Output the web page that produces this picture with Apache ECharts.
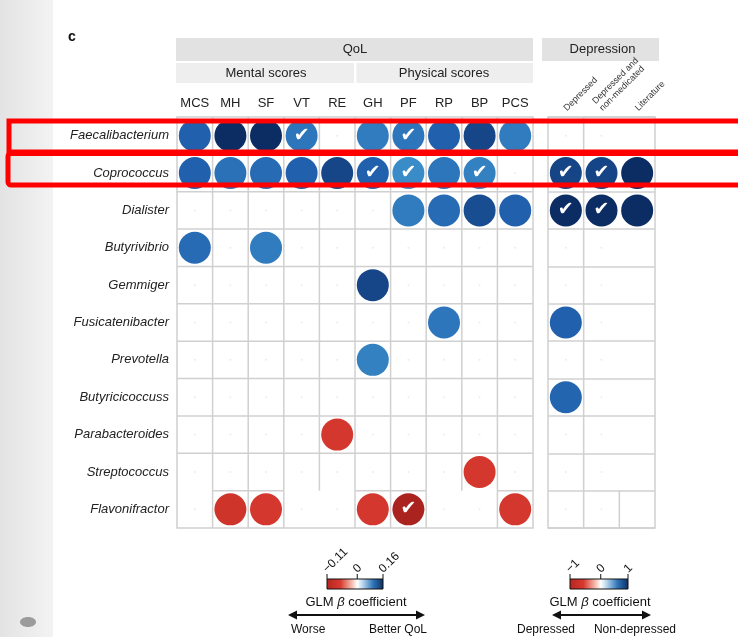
<!DOCTYPE html>
<html>
<head>
<meta charset="utf-8">
<script src="https://cdn.jsdelivr.net/npm/echarts@6/dist/echarts.min.js"></script>
<style>
html, body { margin: 0; padding: 0; background: #fff; }
#main { width: 738px; height: 637px; }
</style>
</head>
<body>
<div id="main"></div>
<script>
// genera (rows), top to bottom
var rows = ['Faecalibacterium', 'Coprococcus', 'Dialister', 'Butyrivibrio', 'Gemmiger',
	'Fusicatenibacter', 'Prevotella', 'Butyricicoccuss', 'Parabacteroides', 'Streptococcus', 'Flavonifractor'];

// QoL scores (columns)
var qolCols = ['MCS', 'MH', 'SF', 'VT', 'RE', 'GH', 'PF', 'RP', 'BP', 'PCS'];
var mentalCols = ['MCS', 'MH', 'SF', 'VT', 'RE'];
var physicalCols = ['GH', 'PF', 'RP', 'BP', 'PCS'];

// depression comparisons (columns)
var depCols = ['Depressed', 'Depressed and non-medicated', 'Literature'];

// GLM beta for QoL, one line per genus (null = not significant)
var qolBeta = [
	[0.12, 0.16, 0.16, 0.10, null, 0.095, 0.10, 0.12, 0.14, 0.095],
	[0.12, 0.105, 0.11, 0.12, 0.14, 0.12, 0.08, 0.10, 0.09, null],
	[null, null, null, null, null, null, 0.095, 0.11, 0.135, 0.12],
	[0.11, null, 0.095, null, null, null, null, null, null, null],
	[null, null, null, null, null, 0.14, null, null, null, null],
	[null, null, null, null, null, null, null, 0.10, null, null],
	[null, null, null, null, null, 0.09, null, null, null, null],
	[null, null, null, null, null, null, null, null, null, null],
	[null, null, null, null, -0.085, null, null, null, null, null],
	[null, null, null, null, null, null, null, null, -0.085, null],
	[null, -0.09, -0.085, null, null, -0.085, -0.13, null, null, -0.085]
];

// GLM beta for depression
var depBeta = [
	[null, null, null],
	[0.88, 0.88, 1.0],
	[1.0, 1.0, 1.0],
	[null, null, null],
	[null, null, null],
	[0.75, null, null],
	[null, null, null],
	[0.72, null, null],
	[null, null, null],
	[null, null, null],
	[null, null, null]
];

// cells with a check mark
var qolChecked = [['Faecalibacterium', 'VT'], ['Faecalibacterium', 'PF'], ['Coprococcus', 'GH'],
	['Coprococcus', 'PF'], ['Coprococcus', 'BP'], ['Flavonifractor', 'PF']];
var depChecked = [['Coprococcus', 'Depressed'], ['Coprococcus', 'Depressed and non-medicated'],
	['Dialister', 'Depressed'], ['Dialister', 'Depressed and non-medicated']];

// colour bar ticks
var qolTicks = [-0.11, 0, 0.16];
var depTicks = [-1, 0, 1];

var betaColors = ['#8e1b1b', '#b52520', '#d8392f', '#ee8a78', '#ffffff', '#8dbde0', '#3a8cc8', '#2160ad', '#0b2d63'];
var gridColor = '#d0d0d0';
var font = 'Liberation Sans';

function isChecked(list, r, c) {
	for (var i = 0; i < list.length; i++) {
		if (list[i][0] === r && list[i][1] === c) return 1;
	}
	return 0;
}

function buildPoints(beta, cols, checked) {
	var pts = [];
	rows.forEach(function(r, i) {
		cols.forEach(function(c, j) {
			if (beta[i][j] !== null) pts.push([c, r, beta[i][j], isChecked(checked, r, c)]);
		});
	});
	return pts;
}

function buildEmpty(beta, cols, maxCol) {
	var pts = [];
	rows.forEach(function(r, i) {
		cols.forEach(function(c, j) {
			if (j < maxCol && beta[i][j] === null) pts.push([c, r]);
		});
	});
	return pts;
}

var circleLabel = {
	show: true,
	position: 'inside',
	formatter: function(p) { return p.data[3] ? '\u2714' : ''; },
	color: '#fff',
	fontSize: 19,
	fontFamily: 'DejaVu Sans'
};

var option = {
	animation: false,
	backgroundColor: '#fff',
	grid: [
		{ left: 177, top: 117, width: 356, height: 411, show: true, borderColor: gridColor, borderWidth: 1.5 },
		{ left: 548, top: 117, width: 107, height: 411, show: true, borderColor: gridColor, borderWidth: 1.5 }
	],
	xAxis: [
		{
			type: 'category', gridIndex: 0, data: qolCols, position: 'top',
			axisLine: { show: false }, axisTick: { show: false },
			axisLabel: { interval: 0, margin: 7, fontSize: 13, color: '#222', fontFamily: font },
			splitLine: { show: false }
		},
		{
			type: 'category', gridIndex: 1, data: depCols, position: 'top',
			axisLine: { show: false }, axisTick: { show: false },
			axisLabel: { show: false },
			splitLine: { show: false }
		}
	],
	yAxis: [
		{
			type: 'category', gridIndex: 0, data: rows, inverse: true,
			axisLine: { show: false }, axisTick: { show: false },
			axisLabel: { interval: 0, margin: 8, fontSize: 13, fontStyle: 'italic', color: '#222', fontFamily: font },
			splitLine: { show: false }
		},
		{
			type: 'category', gridIndex: 1, data: rows, inverse: true,
			axisLine: { show: false }, axisTick: { show: false }, axisLabel: { show: false },
			splitLine: { show: true, interval: 0, lineStyle: { color: gridColor, width: 1.5 } }
		}
	],
	visualMap: [
		{ type: 'continuous', show: false, seriesIndex: 0, dimension: 2, min: -0.16, max: 0.16, inRange: { color: betaColors } },
		{ type: 'continuous', show: false, seriesIndex: 1, dimension: 2, min: -1, max: 1, inRange: { color: betaColors } }
	],
	series: [
		{
			name: 'QoL', type: 'scatter', xAxisIndex: 0, yAxisIndex: 0, symbolSize: 32, z: 3,
			itemStyle: { opacity: 1 }, data: buildPoints(qolBeta, qolCols, qolChecked), label: circleLabel
		},
		{
			name: 'Depression', type: 'scatter', xAxisIndex: 1, yAxisIndex: 1, symbolSize: 32, z: 3,
			itemStyle: { opacity: 1 }, data: buildPoints(depBeta, depCols, depChecked), label: circleLabel
		},
		{
			name: 'emptyQoL', type: 'scatter', xAxisIndex: 0, yAxisIndex: 0, symbolSize: 2, silent: true,
			itemStyle: { color: '#ececec', opacity: 1 }, data: buildEmpty(qolBeta, qolCols, 10)
		},
		{
			name: 'emptyDep', type: 'scatter', xAxisIndex: 1, yAxisIndex: 1, symbolSize: 2, silent: true,
			itemStyle: { color: '#ececec', opacity: 1 }, data: buildEmpty(depBeta, depCols, 2)
		}
	]
};

var chart = echarts.init(document.getElementById('main'));
chart.setOption(option);

function px(g, c, r) {
	return chart.convertToPixel({ xAxisIndex: g, yAxisIndex: g }, [c, r]);
}

// cell geometry from the axes
var p00 = px(0, qolCols[0], rows[0]);
var colW = px(0, qolCols[1], rows[0])[0] - p00[0];
var rowH = px(0, qolCols[0], rows[1])[1] - p00[1];
var qolLeft = p00[0] - colW / 2;
var qolRight = px(0, qolCols[qolCols.length - 1], rows[0])[0] + colW / 2;
var mentalRight = px(0, mentalCols[mentalCols.length - 1], rows[0])[0] + colW / 2;
var gridTop = p00[1] - rowH / 2;
var gridBottom = px(0, qolCols[0], rows[rows.length - 1])[1] + rowH / 2;
var d0 = px(1, depCols[0], rows[0]);
var d1 = px(1, depCols[1], rows[0]);
var d2 = px(1, depCols[2], rows[0]);
var depLeft = d0[0] - colW / 2;
var depRight = d2[0] + colW / 2;

var g = [];

function gridLine(x1, y1, x2, y2) {
	g.push({ type: 'line', z: 1, shape: { x1: x1, y1: y1, x2: x2, y2: y2 }, style: { stroke: gridColor, lineWidth: 1.5 } });
}

// QoL cell borders; in the last row only the filled cells are boxed
var lastRow = rows.length - 1;
var lastTop = gridBottom - rowH;
rows.forEach(function(r, i) {
	if (i === 0) return;
	var y = gridTop + rowH * i;
	if (i < lastRow) {
		gridLine(qolLeft, y, qolRight, y);
	} else {
		qolCols.forEach(function(c, j) {
			if (qolBeta[i][j] !== null) gridLine(qolLeft + colW * j, y, qolLeft + colW * (j + 1), y);
		});
	}
});
qolCols.forEach(function(c, j) {
	if (j === 0) return;
	var x = qolLeft + colW * j;
	gridLine(x, gridTop, x, lastTop);
	if (qolBeta[lastRow][j] !== null || qolBeta[lastRow][j - 1] !== null) gridLine(x, lastTop, x, gridBottom);
});

// slide background strip
g.push({ type: 'rect', z: -10, shape: { x: 0, y: 0, width: 53, height: 637 },
	style: { fill: new echarts.graphic.LinearGradient(0, 0, 1, 0, [
		{ offset: 0, color: '#e3e3e3' }, { offset: 1, color: '#f3f3f3' }]) } });
g.push({ type: 'ellipse', shape: { cx: 28, cy: 622, rx: 8, ry: 5 }, style: { fill: '#9b9b9b' } });

g.push({ type: 'text', x: 68, y: 37, style: { text: 'c', font: 'bold 14px ' + font, fill: '#111', verticalAlign: 'middle' } });

// header bars
g.push({ type: 'rect', shape: { x: qolLeft - 1, y: 38, width: qolRight - qolLeft + 1, height: 23 }, style: { fill: '#e2e2e2' } });
g.push({ type: 'rect', shape: { x: qolLeft - 1, y: 63, width: mentalRight - qolLeft, height: 20 }, style: { fill: '#eeeeee' } });
g.push({ type: 'rect', shape: { x: mentalRight + 1.5, y: 63, width: qolRight - mentalRight - 1.5, height: 20 }, style: { fill: '#eeeeee' } });
g.push({ type: 'rect', shape: { x: depLeft - 6, y: 38, width: depRight - depLeft + 10, height: 23 }, style: { fill: '#e2e2e2' } });

function headText(x, y, t) {
	return { type: 'text', x: x, y: y, style: { text: t, font: '13px ' + font, fill: '#222', align: 'center', verticalAlign: 'middle' } };
}
g.push(headText((qolLeft + qolRight) / 2, 49.5, 'QoL'));
g.push(headText((qolLeft + mentalRight) / 2, 73, 'Mental scores'));
g.push(headText((mentalRight + qolRight) / 2, 73, 'Physical scores'));
g.push(headText((depLeft + depRight) / 2 + 1, 49.5, 'Depression'));

// rotated depression column labels
[d0, d1, d2].forEach(function(p, i) {
	var t = depCols[i].replace(' non', '\nnon');
	g.push({ type: 'text', x: p[0] + 3, y: gridTop - 4, rotation: Math.PI / 4,
		style: { text: t, font: '9px ' + font, fill: '#333', align: 'left', verticalAlign: 'bottom', lineHeight: 10 } });
});

// depression panel vertical lines (only between first two columns, last row split in three)
var b01 = (d0[0] + d1[0]) / 2;
var b12 = (d1[0] + d2[0]) / 2;
gridLine(b01, gridTop, b01, gridBottom);
gridLine(b12, gridBottom - rowH, b12, gridBottom);

// colour bars
function colorBar(x, w, ticks, zeroPos) {
	var y = 579, h = 10;
	g.push({ type: 'rect', shape: { x: x, y: y, width: w, height: h },
		style: { stroke: '#111', lineWidth: 1, fill: new echarts.graphic.LinearGradient(0, 0, 1, 0, [
			{ offset: 0, color: '#b52520' }, { offset: zeroPos * 0.45, color: '#d8392f' },
			{ offset: zeroPos * 0.85, color: '#f6c6b8' }, { offset: zeroPos, color: '#ffffff' },
			{ offset: zeroPos + (1 - zeroPos) * 0.2, color: '#bcd8ee' },
			{ offset: zeroPos + (1 - zeroPos) * 0.6, color: '#2f75b8' }, { offset: 1, color: '#0b2d63' }]) } });
	var pos = [0, zeroPos, 1];
	ticks.forEach(function(t, i) {
		var tx = x + w * pos[i];
		g.push({ type: 'line', shape: { x1: tx, y1: y - 5, x2: tx, y2: y }, style: { stroke: '#111', lineWidth: 1 } });
		g.push({ type: 'text', x: tx - 2, y: y - 8, rotation: Math.PI / 4,
			style: { text: String(t).replace('-', '\u2212'), font: '12px ' + font, fill: '#111', align: 'left', verticalAlign: 'middle' } });
	});
}
colorBar(327, 56, qolTicks, 0.54);
colorBar(570, 58, depTicks, 0.53);

function richLabel(x, y) {
	return { type: 'text', x: x, y: y, style: {
		text: '{a|GLM }{b|\u03b2}{a| coefficient}', align: 'center', verticalAlign: 'middle',
		rich: { a: { font: '13px ' + font, fill: '#111' }, b: { font: 'italic 13px ' + font, fill: '#111' } } } };
}
g.push(richLabel(356, 602));
g.push(richLabel(600, 602));

function arrow(x1, x2, y) {
	g.push({ type: 'line', shape: { x1: x1 + 4, y1: y, x2: x2 - 4, y2: y }, style: { stroke: '#111', lineWidth: 2 } });
	g.push({ type: 'polygon', shape: { points: [[x1, y], [x1 + 9, y - 4.5], [x1 + 9, y + 4.5]] }, style: { fill: '#111' } });
	g.push({ type: 'polygon', shape: { points: [[x2, y], [x2 - 9, y - 4.5], [x2 - 9, y + 4.5]] }, style: { fill: '#111' } });
}
arrow(288, 425, 615);
arrow(552, 651, 615);

function smallText(x, y, t, align) {
	return { type: 'text', x: x, y: y, style: { text: t, font: '12px ' + font, fill: '#111', align: align, verticalAlign: 'middle' } };
}
g.push(smallText(291, 630, 'Worse', 'left'));
g.push(smallText(427, 630, 'Better QoL', 'right'));
g.push(smallText(517, 630, 'Depressed', 'left'));
g.push(smallText(676, 630, 'Non-depressed', 'right'));

// red highlight boxes
g.push({ type: 'rect', z: 100, shape: { x: 9, y: 121, width: 740, height: 31 }, style: { fill: 'none', stroke: '#ff0000', lineWidth: 5 } });
g.push({ type: 'rect', z: 100, shape: { x: 8, y: 153.5, width: 740, height: 31.5, r: 3 }, style: { fill: 'none', stroke: '#ff0000', lineWidth: 5 } });

chart.setOption({ graphic: { elements: g } });
</script>
</body>
</html>
